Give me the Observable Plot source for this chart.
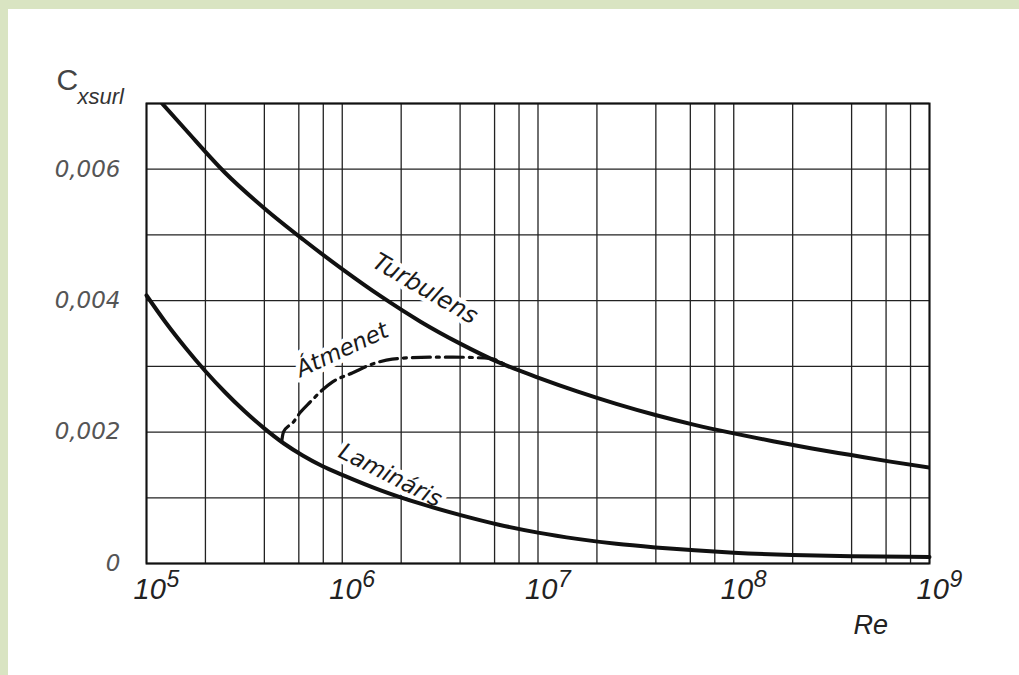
<!DOCTYPE html>
<html><head><meta charset="utf-8">
<script src="https://cdn.jsdelivr.net/npm/d3@7"></script>
<script src="https://cdn.jsdelivr.net/npm/@observablehq/plot@0.6"></script>
<style>
html,body{margin:0;padding:0;background:#fff;}
#wrap{width:1011px;height:666px;border-top:9px solid #d9e4c2;border-left:8px solid #d9e4c2;background:#fff;overflow:hidden}
</style></head><body><div id="wrap"></div>
<script>
// grid
const gridRe = [1e5,2e5,4e5,6e5,8e5,1e6,2e6,4e6,6e6,8e6,1e7,2e7,4e7,6e7,8e7,1e8,2e8,4e8,6e8,8e8,1e9];
const gridCx = [0,0.001,0.002,0.003,0.004,0.005,0.006,0.007];
// tick labels
const yTicks = [0,0.002,0.004,0.006];
const yTickLabels = ["0","0,002","0,004","0,006"];
const xTicks = [1e5,1e6,1e7,1e8,1e9];
const xTickExp = ["5","6","7","8","9"];
// Turbulens
const turbRe = [1.202e5,1.585e5,2.512e5,3.981e5,6.310e5,1e6,1.585e6,2.512e6,3.981e6,6.310e6,1e7,1.585e7,2.512e7,3.981e7,6.310e7,1e8,1.585e8,2.512e8,3.981e8,6.310e8,1e9];
const turbCx = [0.00700,0.00660,0.00595,0.00541,0.00493,0.00448,0.00406,0.00368,0.00335,0.00306,0.00283,0.00262,0.00243,0.00226,0.00211,0.00198,0.00186,0.00175,0.00165,0.00155,0.00146];
// Laminaris
const lamRe = [1e5,1.259e5,1.585e5,1.995e5,2.512e5,3.162e5,3.981e5,5.012e5,6.310e5,7.943e5,1e6,1.585e6,2.512e6,3.981e6,6.310e6,1e7,1.585e7,2.512e7,3.981e7,6.310e7,1e8,2e8,4e8,1e9];
const lamCx = [0.00408,0.00366,0.00328,0.00293,0.00261,0.00232,0.00206,0.00183,0.00164,0.00148,0.00135,0.00111,0.00091,0.00074,0.00059,0.00047,0.000375,0.00030,0.000245,0.00020,0.000165,0.00013,0.00011,0.00010];
// Atmenet
const atmRe = [4.9e5,5.01e5,5.62e5,6.11e5,6.87e5,7.91e5,8.89e5,1.125e6,1.472e6,1.8e6,2.81e6,3.68e6,5.69e6,6.92e6];
const atmCx = [0.00185,0.00200,0.00215,0.00230,0.00246,0.00264,0.00276,0.00290,0.00305,0.00311,0.00314,0.00314,0.00312,0.00301];

const turb = turbRe.map((r,i)=>({Re:r, Cx:turbCx[i]}));
const lam = lamRe.map((r,i)=>({Re:r, Cx:lamCx[i]}));
const atm = atmRe.map((r,i)=>({Re:r, Cx:atmCx[i]}));
const yt = yTicks.map((v,i)=>({v, label:yTickLabels[i]}));
const xt = xTicks.map((v,i)=>({v, e:xTickExp[i]}));

const font = "'DejaVu Sans', sans-serif";
const lib = "'Liberation Sans', sans-serif";
const lbl = {fontFamily:font, fontStyle:"italic", fill:"#1a1a1a", stroke:"white", strokeWidth:9, paintOrder:"stroke"};

const plot = Plot.plot({
  width:1011, height:666,
  marginLeft:138, marginRight:90, marginTop:94, marginBottom:112,
  x:{type:"log", domain:[1e5,1e9], axis:null},
  y:{domain:[0,0.007], axis:null},
  style:{background:"white", fontFamily:font},
  marks:[
    Plot.ruleX(gridRe, {x:d=>d, stroke:"#222", strokeWidth:1.3}),
    Plot.ruleY(gridCx, {y:d=>d, stroke:"#222", strokeWidth:1.3}),
    Plot.frame({stroke:"#111", strokeWidth:2}),
    Plot.text(["Turbulens"], {x:2.65e6, y:0.00418, text:d=>d, rotate:30, fontSize:24, ...lbl}),
    Plot.text(["Átmenet"], {x:1.0e6, y:0.00325, text:d=>d, rotate:-25, fontSize:23, ...lbl}),
    Plot.text(["Lamináris"], {x:1.76e6, y:0.00134, text:d=>d, rotate:27, fontSize:23, ...lbl}),
    Plot.line(atm, {x:"Re", y:"Cx", curve:"monotone-x", stroke:"#111", strokeWidth:3.2, strokeDasharray:"18,6,3,6"}),
    Plot.line(turb, {x:"Re", y:"Cx", curve:"monotone-x", stroke:"#111", strokeWidth:4, clip:true}),
    Plot.line(lam, {x:"Re", y:"Cx", curve:"monotone-x", stroke:"#111", strokeWidth:4}),
    Plot.text(yt, {x:()=>1e5, y:"v", text:"label", dx:-26, textAnchor:"end", fontSize:23, fontStyle:"italic", fill:"#555"}),
    Plot.text(xt, {x:"v", y:()=>0, text:()=>"10", dx:-13, dy:26, textAnchor:"start", fontSize:29, fontStyle:"italic", fill:"#222", fontFamily:lib}),
    Plot.text(xt, {x:"v", y:()=>0, text:"e", dx:20, dy:16, textAnchor:"start", fontSize:23, fontStyle:"italic", fill:"#222", fontFamily:lib}),
    Plot.text(["Re"], {x:1e9, y:0, text:d=>d, dx:-76, dy:62, textAnchor:"start", fontSize:27, fontStyle:"italic", fill:"#222", fontFamily:lib}),
    Plot.text(["C"], {x:1e5, y:0.007, text:d=>d, dx:-90, dy:-23, textAnchor:"start", fontSize:30, fill:"#444", fontFamily:lib}),
    Plot.text(["xsurl"], {x:1e5, y:0.007, text:d=>d, dx:-69, dy:-7, textAnchor:"start", fontSize:22, fontStyle:"italic", fill:"#333", fontFamily:lib})
  ]
});
document.getElementById("wrap").appendChild(plot);
</script>
</body></html>
